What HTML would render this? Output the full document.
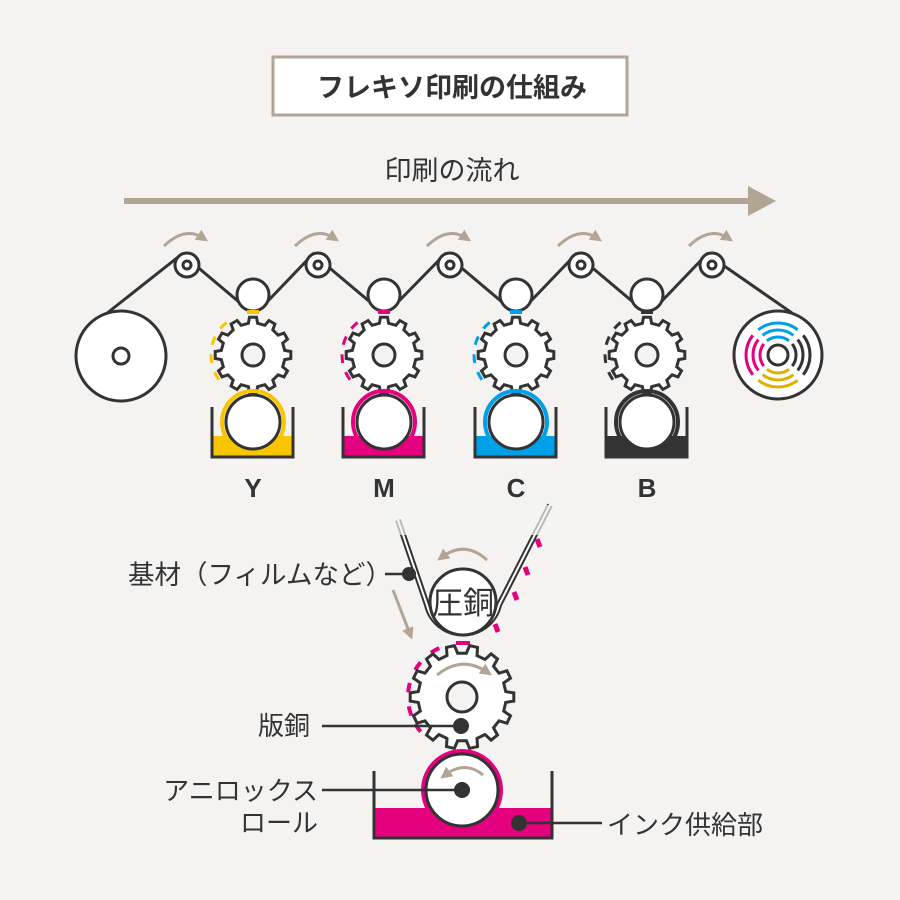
<!DOCTYPE html>
<html><head><meta charset="utf-8"><style>
html,body{margin:0;padding:0;background:#f4f3f1;}
svg{display:block;}
text{font-family:"Liberation Sans","Noto Sans CJK JP",sans-serif;fill:#333;}
</style></head><body>
<svg id="s" width="900" height="900" viewBox="0 0 900 900" xmlns="http://www.w3.org/2000/svg">
<defs>
<marker id="ah" viewBox="0 0 10 10" refX="5" refY="5" markerWidth="4" markerHeight="4" orient="auto"><path d="M0,0 L10,5 L0,10 z" fill="#b3a595"/></marker>
</defs>
<rect x="0" y="0" width="900" height="900" fill="#f4f3f1"/>
<rect x="273" y="57" width="354" height="58" fill="#fff" stroke="#b3a595" stroke-width="3"/>
<text x="452" y="97" font-size="27" font-weight="bold" text-anchor="middle">フレキソ印刷の仕組み</text>
<text x="452" y="180" font-size="27" text-anchor="middle">印刷の流れ</text>
<line x1="124" y1="201" x2="752" y2="201" stroke="#b3a595" stroke-width="6"/>
<path d="M748,186 L776,201 L748,216 z" fill="#b3a595"/>
<g id="top" stroke="#333" stroke-width="3" fill="#fff"></g>
<text x="253" y="497" font-size="26" font-weight="bold" text-anchor="middle">Y</text>
<text x="384" y="497" font-size="26" font-weight="bold" text-anchor="middle">M</text>
<text x="516" y="497" font-size="26" font-weight="bold" text-anchor="middle">C</text>
<text x="647" y="497" font-size="26" font-weight="bold" text-anchor="middle">B</text>
<g id="bot"></g>
<text x="128" y="584" font-size="26.5">基材（フィルムなど）</text>
<text x="258" y="735" font-size="26">版銅</text>
<text x="318" y="800" font-size="26" text-anchor="end">アニロックス</text>
<text x="318" y="832" font-size="26" text-anchor="end">ロール</text>
<text x="607" y="834" font-size="26">インク供給部</text>
</svg>
<script>
function gear(cx,cy,R,r,n){var p=[];for(var i=0;i<n;i++){var a=i*2*Math.PI/n,w=Math.PI/n;
var pts=[[r,a-w*0.55],[R,a-w*0.35],[R,a+w*0.35],[r,a+w*0.55]];
pts.forEach(function(q){p.push((cx+q[0]*Math.cos(q[1])).toFixed(1)+","+(cy+q[0]*Math.sin(q[1])).toFixed(1));});}
return "M"+p.join(" L")+" Z";}
function arcSeg(cx,cy,r,a1,a2){var x1=cx+r*Math.cos(a1),y1=cy+r*Math.sin(a1),x2=cx+r*Math.cos(a2),y2=cy+r*Math.sin(a2);
return "M"+x1.toFixed(1)+","+y1.toFixed(1)+" A"+r+","+r+" 0 0 1 "+x2.toFixed(1)+","+y2.toFixed(1);}
var D=Math.PI/180,h="";
var cols=["#f7c600","#e4007f","#00a0e9","#333"];
var xs=[253,384,516,647],ids=[187,318,450,581,712];
var web="M106,314 L182,254 ";
for(var i=0;i<4;i++){var x=xs[i];web+="L"+(x-14)+",302 A16,16 0 0 0 "+(x+14)+",302 L"+(ids[i+1]-5)+",254 ";}
web+="L792,313";
h+='<path d="'+web+'" fill="none"/>';
ids.forEach(function(x){h+='<circle cx="'+x+'" cy="265" r="12"/><circle cx="'+x+'" cy="265" r="4" fill="#fff"/>';
h+='<path d="M'+(x-23)+',246 Q'+(x-2)+',226 '+(x+16)+',238" fill="none" stroke="#b3a595" stroke-width="3" marker-end="url(#ah)"/>';});
h+='<circle cx="121" cy="356" r="45"/><circle cx="121" cy="356" r="8"/>';
h+='<circle cx="778" cy="355" r="44"/><circle cx="778" cy="355" r="10"/>';
[[38,"#00a0e9",-90],[38,"#e4007f",180],[38,"#333",0],[38,"#e0b000",90]].forEach(function(c){
[18,25,32].forEach(function(r){h+='<path d="'+arcSeg(778,355,r,(c[2]-c[0])*D,(c[2]+c[0])*D)+'" stroke="'+c[1]+'" fill="none"/>';});});
for(var i=0;i<4;i++){var x=xs[i],c=cols[i];
h+='<circle cx="'+x+'" cy="295" r="16"/>';
h+='<rect x="'+(x-6)+'" y="310" width="12" height="4" fill="'+c+'" stroke="none"/>';
[150,175,200,225].forEach(function(a){h+='<path d="'+arcSeg(x,355,42,(a-6)*D,(a+6)*D)+'" stroke="'+c+'" stroke-width="3" fill="none"/>';});
h+='<path d="'+gear(x,355,38,32,12)+'"/><circle cx="'+x+'" cy="355" r="11" fill="#f4f3f1"/>';
h+='<rect x="'+(x-40)+'" y="436" width="80" height="20" fill="'+c+'" stroke="none"/>';
h+='<path d="M'+(x-41)+',407 L'+(x-41)+',457 L'+(x+40)+',457 L'+(x+40)+',407" fill="none"/>';
h+='<circle cx="'+x+'" cy="422" r="31" fill="none" stroke="'+c+'" stroke-width="4"/>';
h+='<circle cx="'+x+'" cy="422" r="27"/>';}
document.getElementById("top").innerHTML=h;
var b="";
var wp="M398,520 L427,605 A37,37 0 0 0 499,605 L550,505";
b+='<path d="'+wp+'" fill="none" stroke="#333" stroke-width="6"/>';
b+='<path d="'+wp+'" fill="none" stroke="#fff" stroke-width="2"/>';
[[534,545],[522,573],[511,598],[492,630]].forEach(function(p){b+='<path d="M'+(p[0]+3)+','+(p[1]-6)+' L'+(p[0]+6)+','+(p[1]+2)+'" stroke="#e4007f" stroke-width="5"/>';});
b+='<rect x="390" y="505" width="170" height="30" fill="#f4f3f1" opacity="0.7"/>';
b+='<circle cx="463" cy="602" r="33" fill="#fff" stroke="#333" stroke-width="3"/>';
b+='<text x="463" y="614" font-size="31" text-anchor="middle">圧銅</text>';
b+='<path d="M487,560 Q465,540 442,557" fill="none" stroke="#b3a595" stroke-width="3" marker-end="url(#ah)"/>';
b+='<path d="M393,590 L410,634" fill="none" stroke="#b3a595" stroke-width="3" marker-end="url(#ah)"/>';
b+='<rect x="456" y="641" width="14" height="4" fill="#e4007f"/>';
[145,165,190,215,240].forEach(function(a){b+='<path d="'+arcSeg(462,697,54,(a-5)*D,(a+5)*D)+'" stroke="#e4007f" stroke-width="4" fill="none"/>';});
b+='<path d="'+gear(462,697,52,44,14)+'" fill="#fff" stroke="#333" stroke-width="3"/>';
b+='<circle cx="462" cy="697" r="15" fill="#f4f3f1" stroke="#333" stroke-width="3"/>';
b+='<path d="M437,675 Q462,655 487,672" fill="none" stroke="#b3a595" stroke-width="3" marker-end="url(#ah)"/>';
b+='<rect x="374" y="808" width="178" height="30" fill="#e4007f"/>';
b+='<path d="M374,771 L374,838 L552,838 L552,771" fill="none" stroke="#333" stroke-width="3"/>';
b+='<circle cx="462" cy="790" r="41" fill="#e4007f"/>';
b+='<circle cx="462" cy="790" r="36" fill="#fff" stroke="#333" stroke-width="3"/>';
b+='<path d="M483,775 Q465,760 445,775" fill="none" stroke="#b3a595" stroke-width="3" marker-end="url(#ah)"/>';
b+='<g stroke="#333" stroke-width="2.5"><line x1="385" y1="574" x2="409" y2="574"/><line x1="322" y1="726" x2="461" y2="726"/><line x1="322" y1="790" x2="462" y2="790"/><line x1="519" y1="823" x2="602" y2="823"/></g>';
b+='<g fill="#333"><circle cx="409" cy="574" r="7"/><circle cx="461" cy="726" r="8"/><circle cx="462" cy="790" r="8"/><circle cx="519" cy="823" r="8"/></g>';
document.getElementById("bot").innerHTML=b;
</script>
</body></html>
